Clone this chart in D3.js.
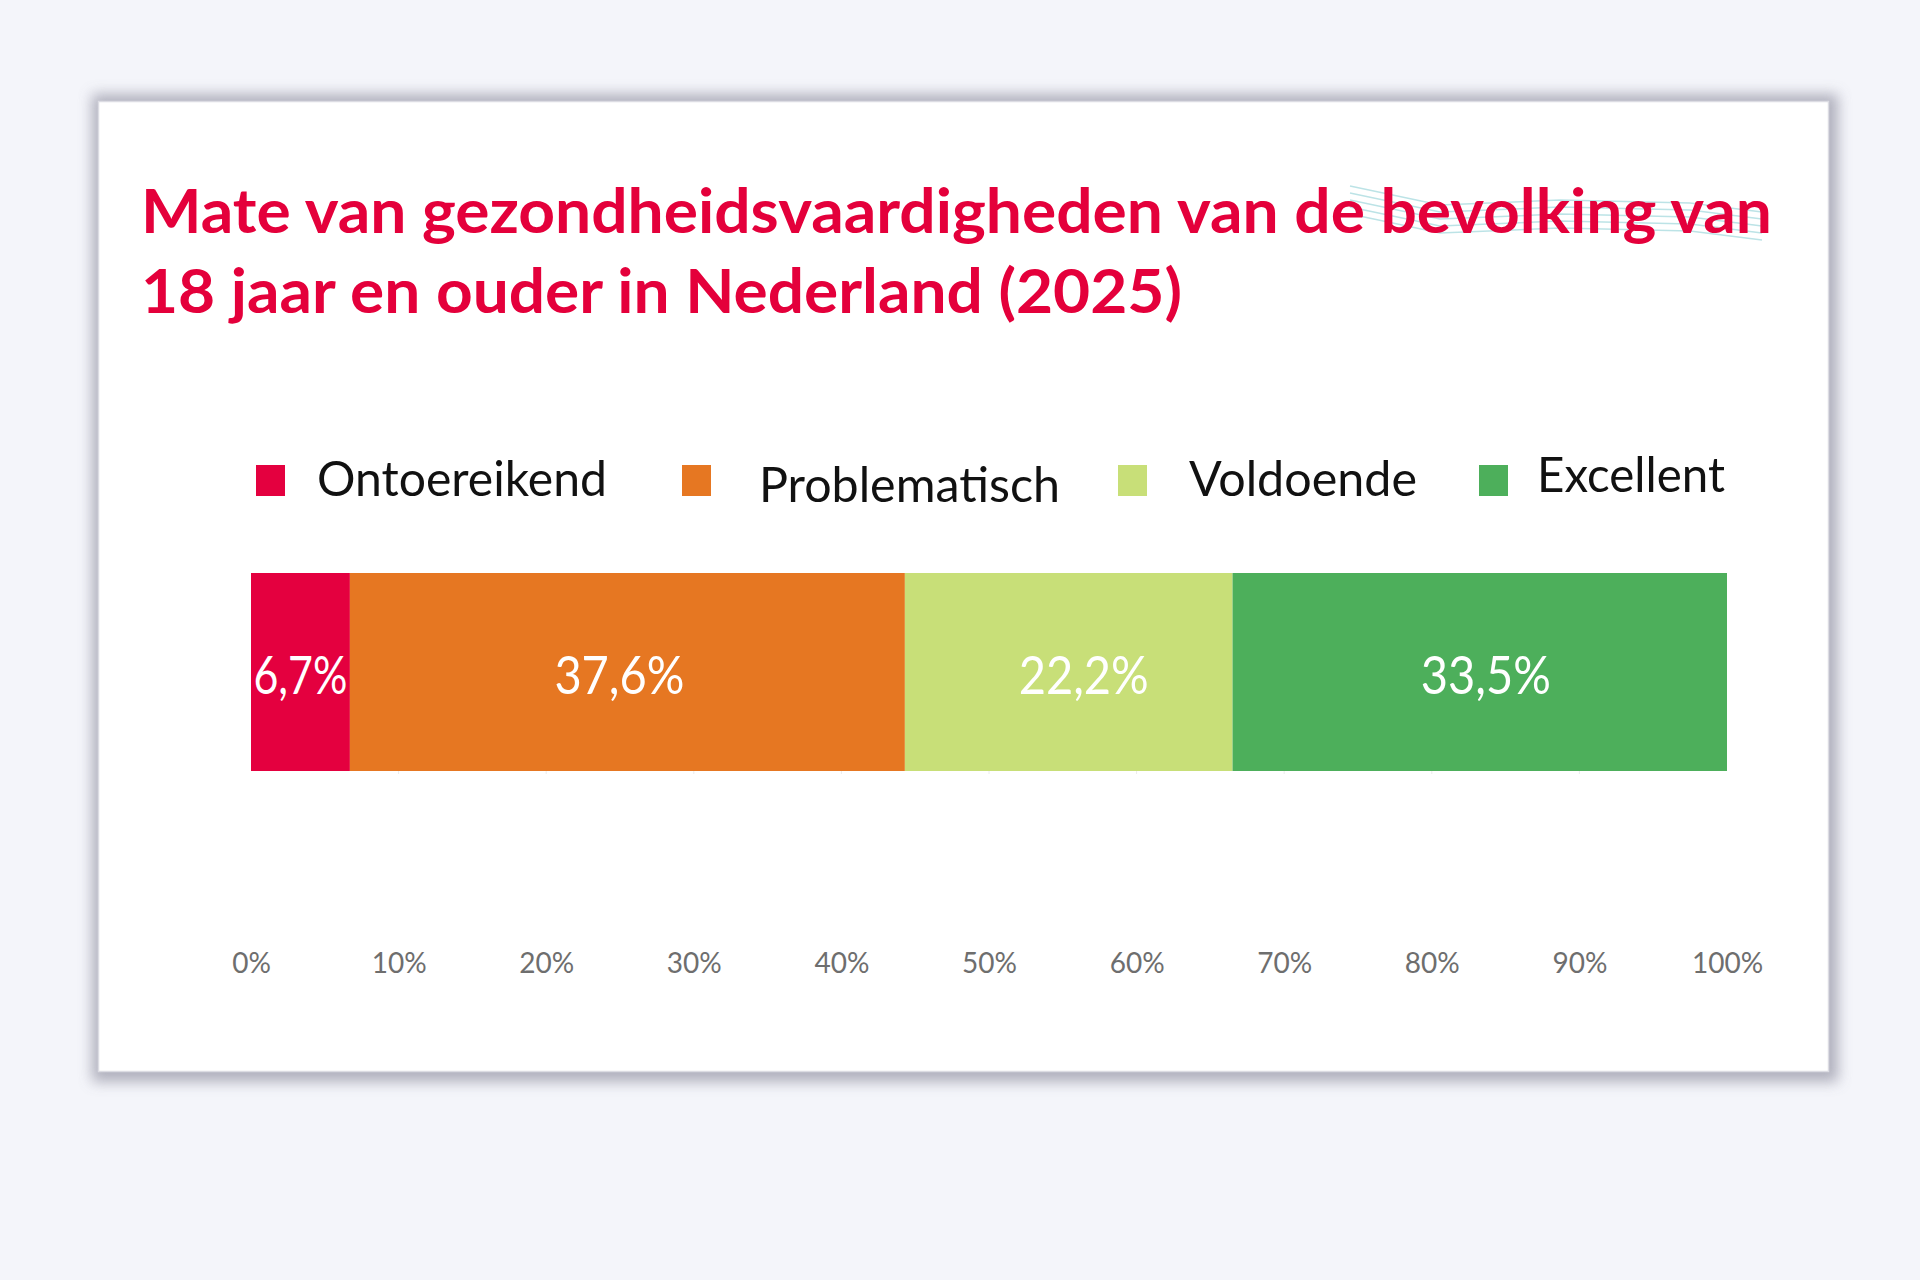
<!DOCTYPE html>
<html>
<head>
<meta charset="utf-8">
<script src="https://cdn.jsdelivr.net/npm/d3@7"></script>
<style>
  html, body { margin: 0; padding: 0; background: #f4f5fa; }
  svg { display: block; }
</style>
</head>
<body>
<svg id="chart" width="1920" height="1280"></svg>
<script>
// data
var categories = ["Ontoereikend", "Problematisch", "Voldoende", "Excellent"];
var values = [6.7, 37.6, 22.2, 33.5];
var valueLabels = ["6,7%", "37,6%", "22,2%", "33,5%"];
var tickValues = [0, 10, 20, 30, 40, 50, 60, 70, 80, 90, 100];
var titleLines = ["Mate van gezondheidsvaardigheden van de bevolking van", "18 jaar en ouder in Nederland (2025)"];

// style / layout
var colors = ["#e4003f", "#e67722", "#c8df78", "#4daf5b"];
var legendX = [256, 682, 1118, 1479];   // square left edge
var legendTextX = [317, 759, 1189, 1537];
var legendTextW = [290, 301, 228, 188];
var legendTextDy = [0, 6, 0, -4];
var labelDx = [0, -8, 15, 6];
var font = "Lato, 'Open Sans', sans-serif";

var svg = d3.select("#chart");

// card + shadow
var defs = svg.append("defs");
defs.append("filter").attr("id", "blur").attr("x", "-10%").attr("y", "-10%").attr("width", "120%").attr("height", "120%")
  .append("feGaussianBlur").attr("stdDeviation", 7);

svg.append("rect").attr("x", 92).attr("y", 94).attr("width", 1746).attr("height", 988)
  .attr("fill", "#a4a4b2").attr("opacity", 0.85).attr("filter", "url(#blur)");
svg.append("rect").attr("x", 98.5).attr("y", 101.5).attr("width", 1730).attr("height", 970)
  .attr("fill", "#ffffff").attr("stroke", "#dcdce3").attr("stroke-width", 1.5);

// faint cyan hatching behind the title (leftover in original)
var hatch = svg.append("g").attr("stroke", "#a6dade").attr("stroke-width", 1.5).attr("fill", "none").attr("opacity", 0.75);
[0, 7, 14, 21, 28].forEach(function (o) {
  hatch.append("path").attr("d", "M1350," + (186 + o) + " L1440," + (205 + o) + " L1560," + (200 + o) + " L1690," + (203 + o) + " L1762," + (212 + o));
});

// title
svg.selectAll("text.title").data(titleLines).enter().append("text")
  .attr("class", "title")
  .attr("x", 141)
  .attr("y", function (d, i) { return 233 + i * 80; })
  .attr("textLength", function (d, i) { return i === 0 ? 1631 : 1041; })
  .attr("lengthAdjust", "spacingAndGlyphs")
  .style("font-family", font).style("font-weight", 700).style("font-size", "61px")
  .attr("fill", "#e4003b")
  .text(function (d) { return d; });

// scale
var x = d3.scaleLinear().domain([0, 100]).range([251, 1727]);
var barTop = 573, barH = 198;

var ends = d3.cumsum(values);
var segs = categories.map(function (c, i) {
  return { cat: c, v: values[i], x0: ends[i] - values[i], x1: ends[i], label: valueLabels[i], color: colors[i] };
});

// faint grid ticks peeking under the bar
svg.append("g").selectAll("line").data(tickValues.slice(1, -1)).enter().append("line")
  .attr("x1", function (d) { return x(d); }).attr("x2", function (d) { return x(d); })
  .attr("y1", barTop).attr("y2", barTop + barH + 3)
  .attr("stroke", "#ececec").attr("stroke-width", 1);

// bars
svg.append("g").selectAll("rect").data(segs).enter().append("rect")
  .attr("x", function (d) { return x(d.x0); })
  .attr("y", barTop)
  .attr("width", function (d) { return x(d.x1) - x(d.x0); })
  .attr("height", barH)
  .attr("fill", function (d) { return d.color; });

// value labels
svg.append("g").selectAll("text").data(segs).enter().append("text")
  .attr("x", function (d, i) { return x((d.x0 + d.x1) / 2) + labelDx[i]; })
  .attr("y", 694)
  .attr("text-anchor", "middle")
  .attr("textLength", function (d) { return d.v < 10 ? 94 : 130; })
  .attr("lengthAdjust", "spacingAndGlyphs")
  .style("font-family", font).style("font-size", "52px")
  .attr("fill", "#ffffff")
  .text(function (d) { return d.label; });

// legend
var leg = svg.append("g").selectAll("g").data(segs).enter().append("g");
leg.append("rect")
  .attr("x", function (d, i) { return legendX[i]; })
  .attr("y", 465)
  .attr("width", 29).attr("height", 31)
  .attr("fill", function (d) { return d.color; });
leg.append("text")
  .attr("x", function (d, i) { return legendTextX[i]; })
  .attr("y", function (d, i) { return 496 + legendTextDy[i]; })
  .attr("textLength", function (d, i) { return legendTextW[i]; })
  .attr("lengthAdjust", "spacingAndGlyphs")
  .style("font-family", font).style("font-size", "49px")
  .attr("fill", "#111111")
  .text(function (d) { return d.cat; });

// axis
var axis = d3.axisBottom(x).tickValues(tickValues)
  .tickFormat(function (d) { return d + "%"; })
  .tickSize(0).tickPadding(0);
var ag = svg.append("g").attr("transform", "translate(0,953)").call(axis);
ag.select(".domain").remove();
ag.selectAll("text").style("font-family", font).style("font-size", "28px").attr("fill", "#6e6e6e");
</script>
</body>
</html>
